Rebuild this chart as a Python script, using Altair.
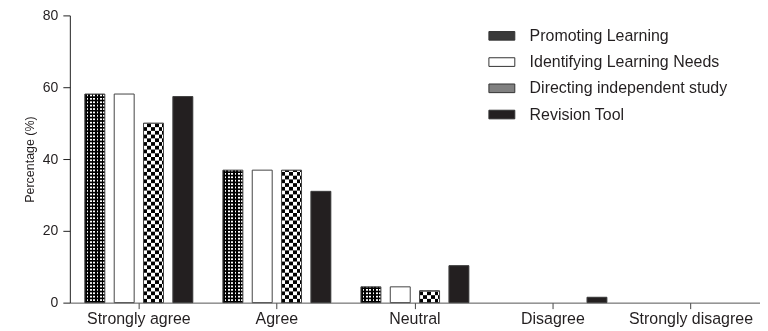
import altair as alt
import pandas as pd

categories = ["Strongly agree", "Agree", "Neutral", "Disagree", "Strongly disagree"]
series = ["Promoting Learning", "Identifying Learning Needs",
          "Directing independent study", "Revision Tool"]

promoting = [58.1, 36.9, 4.4, 0.0, 0.0]
identifying = [58.1, 36.9, 4.4, 0.0, 0.0]
directing = [50.0, 36.9, 3.3, 0.0, 0.0]
revision = [57.4, 31.0, 10.3, 1.5, 0.0]

values_by_series = [promoting, identifying, directing, revision]

rows = []
for s, vals in zip(series, values_by_series):
    for c, v in zip(categories, vals):
        rows.append({"category": c, "series": s, "value": v})
df = pd.DataFrame(rows)

# texture rows (pattern decoration derived from the bar values)
prom_rows_list = []
for c, v in zip(categories, promoting):
    k = 0
    p = 0.95
    while k * p < v:
        y0 = k * p
        y1 = min(y0 + p * 0.5, v)
        prom_rows_list.append({"category": c, "series": series[0], "y0": y0, "y1": y1})
        k += 1
prom_rows = pd.DataFrame(prom_rows_list)

dir_rows_list = []
for c, v in zip(categories, directing):
    k = 1
    h = 1.04
    while k * h < v:
        y0 = k * h
        y1 = min(y0 + h, v)
        dir_rows_list.append({"category": c, "series": series[2], "y0": y0, "y1": y1})
        k += 2
dir_rows = pd.DataFrame(dir_rows_list)


def stripes(n, w):
    stops = []
    for i in range(n):
        col = "black" if i % 2 == 0 else "white"
        a = min(i * w, 1.0)
        b = min((i + 1) * w, 1.0)
        stops.append({"offset": a, "color": col})
        stops.append({"offset": b, "color": col})
        if b >= 1.0:
            break
    return {"gradient": "linear", "x1": 0, "y1": 0, "x2": 1, "y2": 0, "stops": stops}


grad_prom = stripes(12, 1 / 12)
grad_dir = stripes(6, 0.1875)

FONT = "Liberation Sans"
TXT = "#231f20"

x_enc = alt.X("category:N", sort=categories, title=None,
              scale=alt.Scale(paddingInner=0.15, paddingOuter=0.075),
              axis=alt.Axis(labelAngle=0, labelFontSize=16, labelFont=FONT,
                            labelColor=TXT, tickSize=6, labelPadding=2,
                            domainColor="#555", tickColor="#444", grid=False))
xo_enc = alt.XOffset("series:N", sort=series,
                     scale=alt.Scale(domain=series, paddingInner=0.32, paddingOuter=0.16))
y_scale = alt.Scale(domain=[0, 80], nice=False)
y_axis = alt.Axis(values=[0, 20, 40, 60, 80], title="Percentage (%)",
                  titleFontSize=12.5, titleFont=FONT, titleFontWeight="normal",
                  titleColor=TXT, titlePadding=6, labelFontSize=14, labelFont=FONT,
                  labelColor=TXT, tickSize=7, labelPadding=5, grid=False,
                  domainColor="#222", tickColor="#222")

fill_cond = (alt.when(alt.datum.series == series[0]).then(alt.value(grad_prom))
             .when(alt.datum.series == series[2]).then(alt.value(grad_dir))
             .when(alt.datum.series == series[3]).then(alt.value("#231f20"))
             .otherwise(alt.value("white")))

xs = alt.X("category:N", sort=categories)
xos = alt.XOffset("series:N", sort=series)

legend_bars = alt.Chart(df).mark_bar(strokeWidth=0).encode(
    x=x_enc, xOffset=xo_enc,
    y=alt.Y("value:Q", scale=y_scale, axis=y_axis),
    fill=alt.Fill("series:N", sort=series,
                  scale=alt.Scale(domain=series,
                                  range=["#3a3a3a", "white", "#808080", "#231f20"]),
                  legend=alt.Legend(title=None)),
)

bars = alt.Chart(df).mark_bar(strokeWidth=0).encode(
    x=xs, xOffset=xos, y=alt.Y("value:Q"), fill=fill_cond,
)

prom_layer = alt.Chart(prom_rows).mark_rect(fill="black").encode(
    x=xs, xOffset=xos, y=alt.Y("y0:Q"), y2="y1:Q",
)

dir_layer = alt.Chart(dir_rows).mark_rect(fill="white", blend="difference").encode(
    x=xs, xOffset=xos, y=alt.Y("y0:Q"), y2="y1:Q",
)

outline = alt.Chart(df).transform_filter(alt.datum.value > 0).mark_bar(
    fill="white", fillOpacity=0, stroke="#444", strokeWidth=1).encode(
    x=xs, xOffset=xos, y=alt.Y("value:Q"),
)

chart = alt.layer(legend_bars, bars, prom_layer, dir_layer, outline).properties(
    width=692, height=288,
    autosize=alt.AutoSizeParams(type="none"),
    padding={"left": 62, "top": 7, "right": 0, "bottom": 24},
).configure_view(stroke=None).configure_legend(
    orient="none", legendX=415, legendY=11,
    symbolType="M-0.5,-0.5H2.5V0.5H-0.5Z", symbolSize=300,
    symbolStrokeColor="#333", symbolStrokeWidth=1, symbolOpacity=1,
    labelFontSize=16, labelFont=FONT, labelColor=TXT, labelOffset=27,
    labelLimit=400, rowPadding=8.3, padding=0,
)

chart.save("out.html", embed_options={"renderer": "svg", "actions": False})
